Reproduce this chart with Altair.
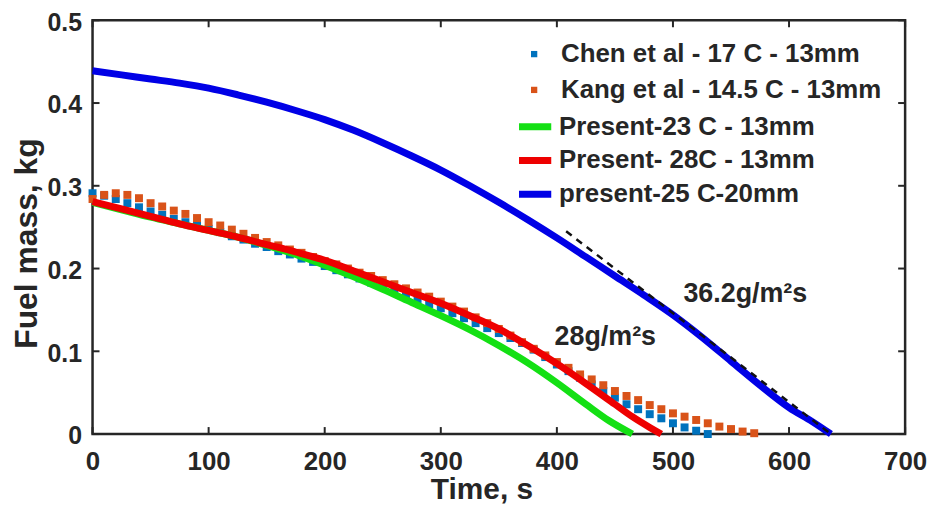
import altair as alt
import pandas as pd

# ---------------- data ----------------
chen_t = [0, 10, 20, 30, 40, 50, 60, 70, 80, 90, 100, 110, 120, 130, 140, 150, 160, 170, 180, 190,
          200, 210, 220, 230, 240, 250, 260, 270, 280, 290, 300, 310, 320, 330, 340, 350, 360, 370,
          380, 390, 400, 410, 420, 430, 440, 450, 460, 470, 480, 490, 500, 510, 520, 530]
chen_m = [0.291, 0.288, 0.284, 0.279, 0.274, 0.269, 0.265, 0.260, 0.256, 0.252, 0.248, 0.244, 0.239,
          0.235, 0.230, 0.226, 0.221, 0.217, 0.212, 0.208, 0.203, 0.198, 0.193, 0.188, 0.183, 0.178,
          0.173, 0.168, 0.163, 0.157, 0.152, 0.146, 0.140, 0.134, 0.128, 0.122, 0.116, 0.110, 0.102,
          0.093, 0.084, 0.076, 0.068, 0.060, 0.052, 0.044, 0.036, 0.030, 0.024, 0.019, 0.013, 0.008,
          0.004, 0.000]

kang_t = [0, 10, 20, 30, 40, 50, 60, 70, 80, 90, 100, 110, 120, 130, 140, 150, 160, 170, 180, 190,
          200, 210, 220, 230, 240, 250, 260, 270, 280, 290, 300, 310, 320, 330, 340, 350, 360, 370,
          380, 390, 400, 410, 420, 430, 440, 450, 460, 470, 480, 490, 500, 510, 520, 530, 540, 550,
          560, 570]
kang_m = [0.284, 0.289, 0.291, 0.289, 0.285, 0.279, 0.275, 0.270, 0.266, 0.261, 0.256, 0.252, 0.247,
          0.242, 0.237, 0.232, 0.228, 0.223, 0.219, 0.214, 0.209, 0.205, 0.200, 0.195, 0.191, 0.186,
          0.181, 0.176, 0.171, 0.166, 0.160, 0.154, 0.148, 0.141, 0.134, 0.127, 0.119, 0.111, 0.103,
          0.095, 0.087, 0.080, 0.072, 0.066, 0.059, 0.052, 0.046, 0.041, 0.035, 0.030, 0.025, 0.021,
          0.017, 0.013, 0.009, 0.006, 0.003, 0.001]

p23_t = [0, 25, 50, 75, 100, 125, 150, 175, 200, 225, 250, 275, 300, 325, 350, 375, 400, 425, 445, 465]
p23_m = [0.280, 0.271, 0.262, 0.254, 0.246, 0.238, 0.228, 0.217, 0.204, 0.190, 0.175, 0.159, 0.143,
         0.126, 0.107, 0.086, 0.062, 0.036, 0.016, 0.000]

p28_t = [0, 25, 50, 75, 100, 125, 150, 175, 200, 225, 250, 275, 300, 325, 350, 375, 400, 425, 450,
         465, 480, 490]
p28_m = [0.281, 0.272, 0.263, 0.254, 0.246, 0.238, 0.229, 0.220, 0.210, 0.197, 0.184, 0.171, 0.158,
         0.143, 0.127, 0.107, 0.085, 0.061, 0.036, 0.021, 0.008, 0.000]

p25_t = [0, 25, 50, 75, 100, 125, 150, 175, 200, 225, 250, 275, 300, 325, 350, 375, 400, 425, 450,
         475, 500, 525, 550, 575, 600, 620, 636]
p25_m = [0.439, 0.434, 0.429, 0.424, 0.418, 0.410, 0.401, 0.391, 0.380, 0.367, 0.352, 0.336, 0.319,
         0.300, 0.280, 0.259, 0.237, 0.214, 0.191, 0.168, 0.144, 0.117, 0.088, 0.059, 0.032, 0.015,
         0.000]

fit_t = [408, 636]
fit_m = [0.245, 0.000]

ann_text = ["28g/m\u00b2s", "36.2g/m\u00b2s"]
ann_t = [398, 509]
ann_m = [0.108, 0.159]

x_ticks = [0, 100, 200, 300, 400, 500, 600, 700]
y_ticks = [0, 0.1, 0.2, 0.3, 0.4, 0.5]

names_pts = ["Chen et al - 17 C - 13mm", "\u2002Kang et al - 14.5 C - 13mm"]
names_lines = ["Present-23 C - 13mm", "Present- 28C - 13mm", "present-25 C-20mm"]
col_pts = ["#0072BD", "#D95319"]
col_lines = ["#14E014", "#EE0000", "#0000E6"]

# ---------------- frames ----------------
pts = pd.concat([
    pd.DataFrame({"t": chen_t, "m": chen_m, "s": names_pts[0]}),
    pd.DataFrame({"t": kang_t, "m": kang_m, "s": names_pts[1]}),
])
lines_df = [
    pd.DataFrame({"t": p23_t, "m": p23_m, "s": names_lines[0]}),
    pd.DataFrame({"t": p28_t, "m": p28_m, "s": names_lines[1]}),
    pd.DataFrame({"t": p25_t, "m": p25_m, "s": names_lines[2]}),
]
fit = pd.DataFrame({"t": fit_t, "m": fit_m})
ann = pd.DataFrame({"t": ann_t, "m": ann_m, "txt": ann_text})
xt = pd.DataFrame({"t": x_ticks})
yt = pd.DataFrame({"m": y_ticks})

W, H = 817, 416
FONT = "Liberation Sans"
TXT = "#262626"

xs = alt.Scale(domain=[0, 700], nice=False, zero=False)
ys = alt.Scale(domain=[0, 0.5], nice=False)
xax = alt.Axis(values=x_ticks, title="Time, s", ticks=False, labelPadding=15, titlePadding=0,
               labelFlush=False, titleX=391, titleFontSize=30, labelFontSize=26)
yax = alt.Axis(values=y_ticks, title="Fuel mass, kg", ticks=False, labelPadding=11, titlePadding=4,
               format="~g", labelFlush=False, titleY=224, titleFontSize=32, labelFontSize=25,
               labelOffset=2)

X = alt.X("t:Q", scale=xs, axis=xax)
Y = alt.Y("m:Q", scale=ys, axis=yax)

points = alt.Chart(pts).mark_square(size=64, opacity=1).encode(
    x=X, y=Y,
    color=alt.Color("s:N", scale=alt.Scale(domain=names_pts, range=col_pts),
                    legend=alt.Legend(orient="none", legendX=431, legendY=21, title=None,
                                      symbolType="square", symbolSize=40, labelOffset=14,
                                      rowPadding=10, labelLimit=600)),
)

line_legend = alt.Legend(orient="none", legendX=425, legendY=87, title=None, symbolType="stroke",
                         symbolSize=1050, symbolStrokeWidth=7, labelOffset=4, rowPadding=0,
                         labelLimit=600)
line_scale = alt.Scale(domain=names_lines, range=col_lines)
line_layers = [
    alt.Chart(d).mark_line(strokeWidth=7, interpolate="monotone", strokeCap="butt").encode(
        x=X, y=Y, color=alt.Color("s:N", scale=line_scale, legend=line_legend))
    for d in lines_df
]
lines = alt.layer(*line_layers)

fit_line = alt.Chart(fit).mark_line(color="#111111", strokeDash=[7, 6], strokeWidth=2.5).encode(x=X, y=Y)

texts = alt.Chart(ann).mark_text(align="left", baseline="alphabetic", font=FONT, fontSize=27,
                                 fontWeight="bold", color=TXT).encode(x=X, y=Y, text="txt:N")

tick_style = dict(color=TXT, strokeWidth=2)
t_bot = alt.Chart(xt).mark_rule(**tick_style).encode(x=X, y=alt.value(H - 7), y2=alt.value(H))
t_top = alt.Chart(xt).mark_rule(**tick_style).encode(x=X, y=alt.value(0), y2=alt.value(7))
t_left = alt.Chart(yt).mark_rule(**tick_style).encode(y=Y, x=alt.value(0), x2=alt.value(7))
t_right = alt.Chart(yt).mark_rule(**tick_style).encode(y=Y, x=alt.value(W - 7), x2=alt.value(W))

chart = alt.layer(points, lines, fit_line, texts, t_bot, t_top, t_left, t_right).resolve_scale(
    color="independent"
).properties(
    width=W, height=H,
    autosize=alt.AutoSizeParams(type="none"),
    padding={"left": 85, "top": 11, "right": 22, "bottom": 71},
).configure_view(
    stroke=TXT, strokeWidth=2.5
).configure_axis(
    labelFont=FONT, labelFontWeight="bold", labelColor=TXT,
    titleFont=FONT, titleFontWeight="bold", titleColor=TXT,
    domain=False, grid=False,
).configure_legend(
    labelFont=FONT, labelFontSize=26, labelFontWeight="bold", labelColor=TXT, padding=0,
)

chart.save("out.html", embed_options={"renderer": "svg", "actions": False})
